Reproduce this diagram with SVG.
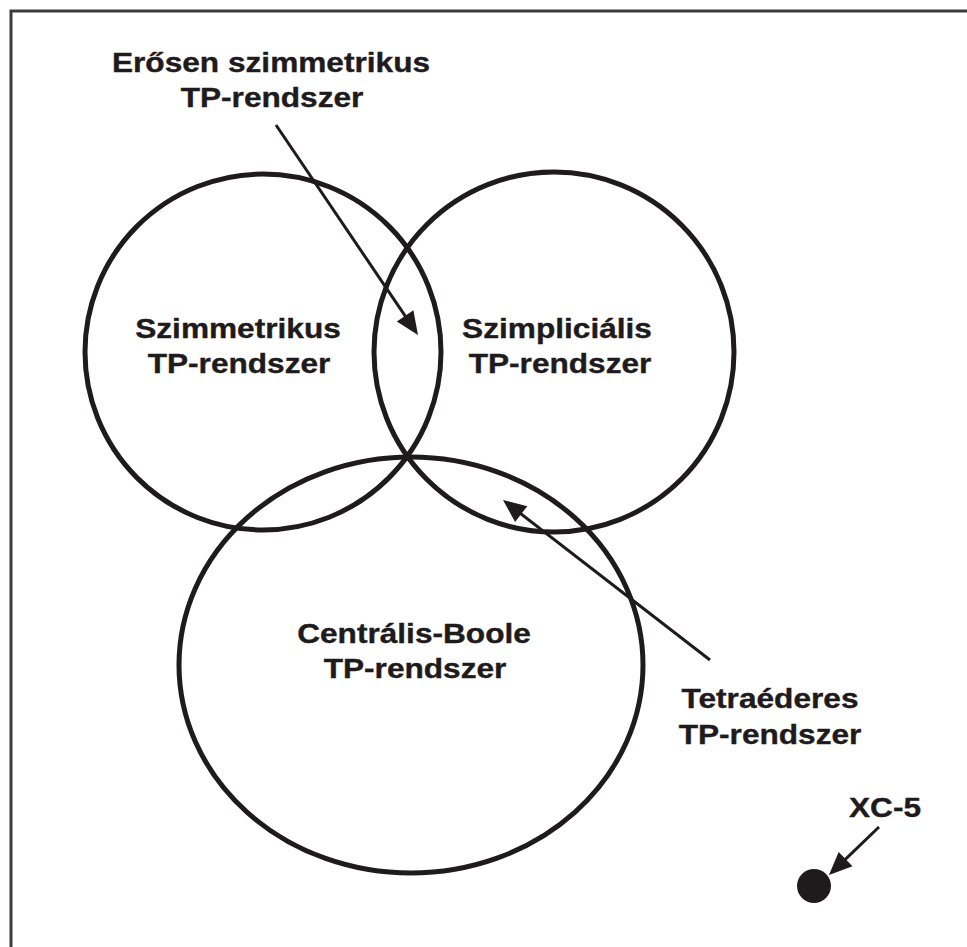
<svg xmlns="http://www.w3.org/2000/svg" width="967" height="947" viewBox="0 0 967 947">
<style>
.set{fill:none;stroke:#1f1b1c;stroke-width:5}
.conn{fill:none;stroke:#1f1b1c;stroke-width:3}
.lbl{font-family:"Liberation Sans",Arial,sans-serif;font-weight:bold;font-size:28.5px;fill:#1f1b1c;stroke:#1f1b1c;stroke-width:0.4;text-anchor:middle}
.frame{fill:none;stroke:#3c3c3c;stroke-width:3}
</style>
<defs>
<marker id="ah" viewBox="-24 -11 26 22" refX="-10" refY="0" markerWidth="26" markerHeight="22" markerUnits="userSpaceOnUse" orient="auto">
<path d="M-23,-10 L0,0 L-23,10 Z" fill="#1f1b1c"/>
</marker>
</defs>
<rect width="967" height="947" fill="#ffffff"/>
<path class="frame" d="M11,947 L11,11 L967,11"/>
<g id="node-szimmetrikus">
<circle class="set" cx="263" cy="352" r="178"/>
<text class="lbl" transform="translate(238,338) scale(1.11,1)" x="0" y="0">Szimmetrikus</text>
<text class="lbl" transform="translate(239,373) scale(1.11,1)" x="0" y="0">TP-rendszer</text>
</g>
<g id="node-szimplicialis">
<circle class="set" cx="554" cy="352" r="180"/>
<text class="lbl" transform="translate(557,338) scale(1.11,1)" x="0" y="0">Szimpliciális</text>
<text class="lbl" transform="translate(560,373) scale(1.11,1)" x="0" y="0">TP-rendszer</text>
</g>
<g id="node-centralis-boole">
<ellipse class="set" cx="411" cy="665" rx="232" ry="208"/>
<text class="lbl" transform="translate(414,643) scale(1.11,1)" x="0" y="0">Centrális-Boole</text>
<text class="lbl" transform="translate(415,678) scale(1.11,1)" x="0" y="0">TP-rendszer</text>
</g>
<g id="node-erosen">
<text class="lbl" transform="translate(271,72) scale(1.11,1)" x="0" y="0">Erősen szimmetrikus</text>
<text class="lbl" transform="translate(272,107) scale(1.11,1)" x="0" y="0">TP-rendszer</text>
</g>
<g id="node-tetraederes">
<text class="lbl" transform="translate(770,708) scale(1.11,1)" x="0" y="0">Tetraéderes</text>
<text class="lbl" transform="translate(770,744) scale(1.11,1)" x="0" y="0">TP-rendszer</text>
</g>
<g id="node-xc5">
<text class="lbl" transform="translate(885,817) scale(1.11,1)" x="0" y="0">XC-5</text>
<circle cx="814" cy="886" r="17" fill="#1f1b1c"/>
</g>
<g id="connectors">
<line class="conn" x1="276" y1="125" x2="412.4" y2="326.7" marker-end="url(#ah)"/>
<line class="conn" x1="710" y1="660" x2="510.9" y2="506.1" marker-end="url(#ah)"/>
<line class="conn" x1="879" y1="827" x2="836.2" y2="868.1" marker-end="url(#ah)"/>
</g>
</svg>
